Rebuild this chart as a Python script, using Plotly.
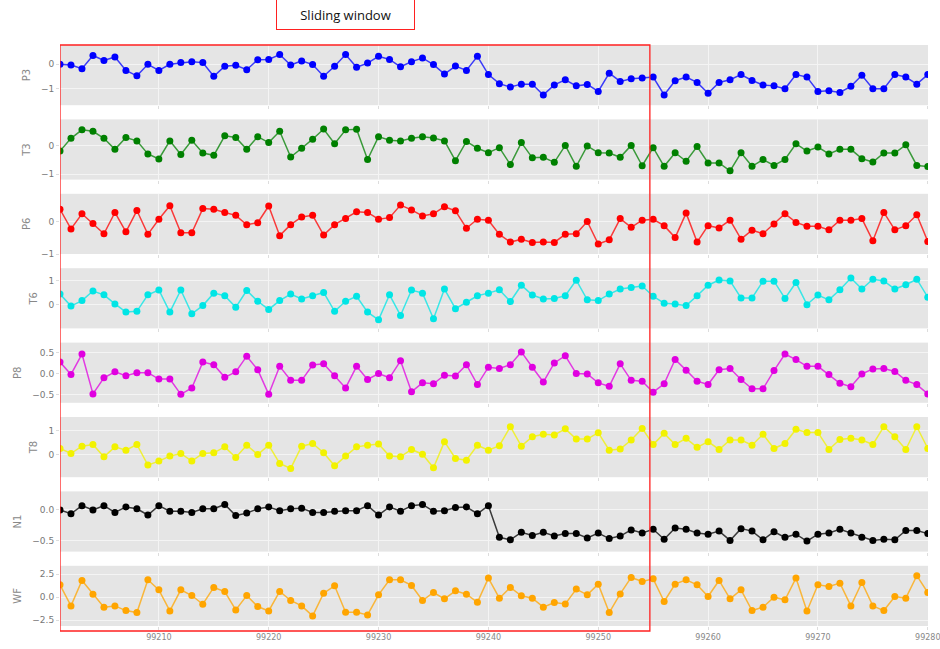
import plotly.graph_objects as go
from plotly.subplots import make_subplots

x_values = list(range(99201, 99281))

P3 = [0.0, -0.03, -0.18, 0.36, 0.16, 0.3, -0.25, -0.47, 0.0, -0.25,
      0.0, 0.07, 0.11, 0.07, -0.49, -0.08, -0.04, -0.22, 0.19, 0.2,
      0.4, -0.03, 0.14, -0.01, -0.49, -0.08, 0.4, -0.12, 0.05, 0.33,
      0.2, -0.1, 0.11, 0.26, -0.01, -0.4, -0.07, -0.25, 0.33, -0.42,
      -0.79, -0.93, -0.81, -0.81, -1.25, -0.84, -0.63, -0.88, -0.82, -1.11,
      -0.36, -0.7, -0.59, -0.56, -0.52, -1.25, -0.67, -0.52, -0.74, -1.18,
      -0.74, -0.63, -0.42, -0.66, -0.84, -0.88, -1.0, -0.42, -0.52, -1.11,
      -1.08, -1.15, -0.9, -0.45, -1.0, -1.0, -0.42, -0.52, -0.81, -0.42]

T3 = [-0.18, 0.27, 0.57, 0.52, 0.27, -0.12, 0.3, 0.18, -0.28, -0.46,
      0.18, -0.3, 0.2, -0.25, -0.33, 0.36, 0.3, -0.12, 0.33, 0.12,
      0.52, -0.39, -0.08, 0.24, 0.6, 0.08, 0.57, 0.59, -0.48, 0.33,
      0.2, 0.18, 0.27, 0.33, 0.28, 0.18, -0.52, 0.16, -0.08, -0.24,
      -0.06, -0.66, 0.12, -0.42, -0.4, -0.58, 0.02, -0.72, 0.0, -0.24,
      -0.25, -0.4, 0.02, -0.7, -0.06, -0.72, -0.24, -0.54, -0.02, -0.6,
      -0.6, -0.88, -0.24, -0.72, -0.48, -0.69, -0.48, 0.08, -0.18, -0.04,
      -0.28, -0.12, -0.12, -0.45, -0.57, -0.25, -0.25, 0.04, -0.69, -0.73]

P6 = [0.39, -0.22, 0.25, -0.05, -0.37, 0.29, -0.31, 0.35, -0.39, 0.08,
      0.5, -0.34, -0.34, 0.41, 0.39, 0.29, 0.2, -0.09, -0.03, 0.49,
      -0.43, -0.09, 0.15, 0.2, -0.41, -0.09, 0.1, 0.31, 0.29, 0.08,
      0.13, 0.52, 0.37, 0.18, 0.25, 0.47, 0.34, -0.2, 0.08, 0.05,
      -0.39, -0.63, -0.54, -0.64, -0.63, -0.64, -0.39, -0.37, 0.01, -0.69,
      -0.56, 0.1, -0.17, 0.05, 0.08, -0.12, -0.49, 0.27, -0.63, -0.12,
      -0.19, 0.05, -0.54, -0.26, -0.37, -0.07, 0.25, -0.02, -0.14, -0.14,
      -0.25, 0.05, 0.05, 0.1, -0.59, 0.29, -0.25, -0.12, 0.22, -0.61]

T6 = [0.45, -0.05, 0.18, 0.58, 0.42, 0.04, -0.3, -0.27, 0.42, 0.62,
      -0.3, 0.62, -0.37, -0.03, 0.49, 0.38, -0.1, 0.6, 0.15, -0.19,
      0.18, 0.45, 0.25, 0.38, 0.52, -0.27, 0.15, 0.36, -0.3, -0.62,
      0.42, -0.44, 0.62, 0.49, -0.58, 0.66, -0.16, 0.11, 0.38, 0.49,
      0.63, 0.14, 0.82, 0.41, 0.25, 0.27, 0.38, 1.03, 0.21, 0.18,
      0.45, 0.66, 0.73, 0.79, 0.36, 0.07, 0.04, -0.03, 0.38, 0.82,
      1.04, 1.0, 0.29, 0.29, 0.99, 0.99, 0.27, 0.93, 0.01, 0.41,
      0.21, 0.63, 1.12, 0.66, 1.07, 1.0, 0.66, 0.84, 1.07, 0.32]

P8 = [0.27, -0.02, 0.46, -0.48, -0.1, 0.04, -0.05, 0.02, 0.02, -0.13,
      -0.13, -0.49, -0.34, 0.27, 0.21, -0.09, 0.04, 0.41, 0.09, -0.49,
      0.17, -0.16, -0.16, 0.2, 0.23, -0.05, -0.34, 0.17, -0.14, 0.0,
      -0.1, 0.3, -0.43, -0.22, -0.24, -0.04, -0.06, 0.21, -0.26, 0.15,
      0.12, 0.21, 0.51, 0.15, -0.2, 0.25, 0.42, 0.0, -0.01, -0.22,
      -0.3, 0.23, -0.16, -0.18, -0.44, -0.24, 0.33, 0.08, -0.18, -0.26,
      0.09, 0.12, -0.14, -0.36, -0.36, 0.07, 0.46, 0.33, 0.17, 0.17,
      -0.02, -0.23, -0.31, -0.01, 0.11, 0.12, 0.05, -0.16, -0.26, -0.48]

T8 = [0.25, 0.04, 0.35, 0.42, -0.1, 0.32, 0.18, 0.42, -0.45, -0.28,
      -0.07, 0.04, -0.28, 0.04, 0.07, 0.32, -0.13, 0.39, 0.0, 0.39,
      -0.38, -0.59, 0.35, 0.46, 0.07, -0.48, -0.07, 0.32, 0.39, 0.44,
      -0.07, -0.1, 0.21, 0.01, -0.56, 0.54, -0.17, -0.24, 0.39, 0.18,
      0.37, 1.17, 0.35, 0.75, 0.85, 0.82, 1.08, 0.65, 0.65, 0.92,
      0.18, 0.23, 0.61, 1.1, 0.42, 0.89, 0.42, 0.68, 0.3, 0.54,
      0.21, 0.61, 0.61, 0.39, 0.85, 0.25, 0.46, 1.06, 0.93, 0.93,
      0.21, 0.63, 0.68, 0.61, 0.42, 1.17, 0.75, 0.21, 1.17, 0.25]

N1 = [-0.01, -0.07, 0.06, -0.01, 0.06, -0.05, 0.04, 0.01, -0.09, 0.06,
      -0.03, -0.03, -0.05, 0.01, 0.01, 0.08, -0.1, -0.06, 0.01, 0.04,
      -0.02, 0.01, 0.02, -0.05, -0.05, -0.03, -0.02, -0.02, 0.06, -0.09,
      0.04, -0.03, 0.06, 0.08, -0.03, -0.02, 0.03, 0.04, -0.07, 0.06,
      -0.45, -0.49, -0.37, -0.42, -0.37, -0.43, -0.39, -0.39, -0.46, -0.38,
      -0.47, -0.43, -0.33, -0.38, -0.32, -0.48, -0.3, -0.32, -0.38, -0.4,
      -0.35, -0.5, -0.31, -0.35, -0.49, -0.36, -0.45, -0.4, -0.51, -0.4,
      -0.38, -0.32, -0.38, -0.45, -0.5, -0.48, -0.49, -0.34, -0.34, -0.39]

WF = [1.35, -0.95, 1.82, 0.33, -1.09, -0.95, -1.46, -1.68, 1.9, 0.8,
      -1.5, 0.8, 0.18, -0.77, 1.06, 0.62, -1.39, 0.18, -1.02, -1.5,
      0.62, -0.36, -0.95, -2.04, 0.44, 1.24, -1.64, -1.64, -1.93, 0.26,
      1.9, 1.9, 1.28, -0.36, 0.51, -0.18, 0.69, 0.33, -0.55, 2.08,
      -0.11, 1.06, 0.15, -0.11, -1.09, -0.58, -0.73, 0.88, 0.26, 1.42,
      -1.68, 0.36, 2.15, 1.72, 2.0, -0.47, 1.42, 1.9, 1.35, 0.07,
      1.82, -0.18, 0.8, -1.46, -1.09, 0.0, -0.29, 2.08, -1.5, 1.35,
      1.17, 1.53, -0.95, 1.6, -0.95, -1.46, 0.07, -0.11, 2.34, 0.51]

series_names = ["P3", "T3", "P6", "T6", "P8", "T8", "N1", "WF"]
series_values = [P3, T3, P6, T6, P8, T8, N1, WF]
series_colors = ["#0000ff", "#008000", "#ff0000", "#00e5e5",
                 "#e000e0", "#f2f200", "#000000", "#ffa500"]

y_ranges = [[-1.67, 0.79], [-1.19, 0.94], [-1.0, 0.87], [-0.98, 1.53],
            [-0.69, 0.73], [-0.96, 1.58], [-0.68, 0.29], [-3.14, 3.42]]
y_tickvals = [[-1, 0], [-1, 0], [-1, 0], [0, 1],
              [-0.5, 0.0, 0.5], [0, 1], [-0.5, 0.0], [-2.5, 0.0, 2.5]]
y_ticktext = [["\u22121", "0"], ["\u22121", "0"], ["\u22121", "0"], ["0", "1"],
              ["\u22120.5", "0.0", "0.5"], ["0", "1"], ["\u22120.5", "0.0"],
              ["\u22122.5", "0.0", "2.5"]]

x_tickvals = [99210, 99220, 99230, 99240, 99250, 99260, 99270, 99280]
x_ticktext = ["99210", "99220", "99230", "99240", "99250", "99260", "99270", "99280"]

window_start = 99201
window_end = 99254.7
window_label = "Sliding window"
window_label_x = 99227.0

W, H = 940, 649
ML, MR, MT, MB = 60, 12, 45, 23
plot_h = H - MT - MB

fig = make_subplots(rows=8, cols=1, shared_xaxes=True, vertical_spacing=14.2 / plot_h)


def rgba(hexcol, a):
    h = hexcol.lstrip("#")
    r, g, b = int(h[0:2], 16), int(h[2:4], 16), int(h[4:6], 16)
    return f"rgba({r},{g},{b},{a})"


for i, (name, vals, col) in enumerate(zip(series_names, series_values, series_colors)):
    fig.add_trace(
        go.Scatter(
            x=x_values, y=vals, mode="lines+markers", name=name,
            line=dict(color=rgba(col, 0.75), width=1.5),
            marker=dict(color=col, size=7),
            showlegend=False,
        ),
        row=i + 1, col=1,
    )
    fig.update_yaxes(
        range=y_ranges[i], tickvals=y_tickvals[i], ticktext=y_ticktext[i],
        title=dict(text=name, font=dict(size=10, color="#888888"), standoff=8),
        tickfont=dict(size=9, color="#777777"),
        showgrid=True, gridcolor="#f4f4f4", gridwidth=1, zeroline=False,
        ticks="outside", ticklen=3, tickcolor="#dddddd",
        showline=False, fixedrange=True,
        row=i + 1, col=1,
    )
    fig.update_xaxes(
        range=[window_start, x_values[-1] + 0.02], tickvals=x_tickvals, ticktext=x_ticktext,
        showgrid=True, gridcolor="#f4f4f4", gridwidth=1, zeroline=False,
        ticks="outside", ticklen=3, tickcolor="#dddddd",
        tickfont=dict(size=8, color="#888888"), ticklabeloverflow="allow",
        showticklabels=(i == 7), showline=False,
        row=i + 1, col=1,
    )

fig.add_shape(
    type="rect", xref="x8", yref="paper",
    x0=window_start, x1=window_end, y0=-5 / plot_h, y1=1.0,
    line=dict(color="#ff2020", width=1.3), fillcolor="rgba(0,0,0,0)", layer="above",
)

fig.add_annotation(
    text=window_label, xref="x8", yref="paper",
    x=window_label_x, y=1 + 30 / plot_h, xanchor="center", yanchor="middle",
    showarrow=False, font=dict(family="Open Sans, Liberation Sans, sans-serif", size=13, color="#111111"),
    bordercolor="#ff2020", borderwidth=1, borderpad=2, width=133, height=25,
    bgcolor="white",
)

fig.update_layout(
    width=W, height=H,
    margin=dict(l=ML, r=MR, t=MT, b=MB, autoexpand=False),
    paper_bgcolor="white", plot_bgcolor="#e5e5e5",
    font=dict(family="DejaVu Sans, sans-serif", color="#777777"),
)

fig.write_html("out.html", config={"displayModeBar": False},
               post_script="document.body.style.margin='0';")
